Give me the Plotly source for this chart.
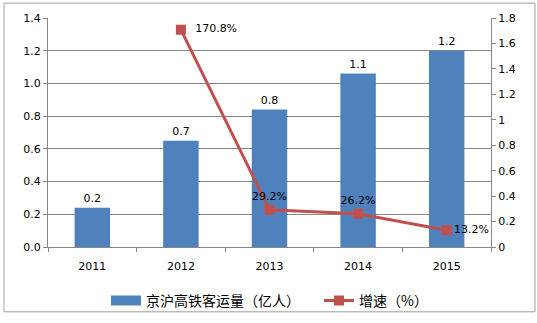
import plotly.graph_objects as go

years = ["2011", "2012", "2013", "2014", "2015"]
volume = [0.24, 0.65, 0.84, 1.06, 1.2]
volume_labels = ["0.2", "0.7", "0.8", "1.1", "1.2"]
growth_years = ["2012", "2013", "2014", "2015"]
growth = [1.708, 0.292, 0.262, 0.132]
growth_labels = ["  170.8%", "29.2%", "26.2%", "13.2%"]

BLUE = "#4F81BD"
RED = "#C0504D"
font_num = "DejaVu Sans, Verdana, sans-serif"
font_cjk = "Noto Sans CJK SC, sans-serif"

fig = go.Figure()
fig.add_trace(go.Bar(
    x=years, y=volume, name="京沪高铁客运量（亿人）", showlegend=False,
    marker=dict(color=BLUE, line=dict(color=BLUE, width=0)),
    text=volume_labels, textposition="outside", cliponaxis=False,
    textfont=dict(size=11, color="#000000", family=font_num),
))
# legend-only entry for the bars (wide rectangle swatch)
fig.add_trace(go.Scatter(
    x=[None], y=[None], name="京沪高铁客运量（亿人）\u2003", mode="lines",
    line=dict(color=BLUE, width=10), showlegend=True,
))
fig.add_trace(go.Scatter(
    x=growth_years, y=growth, name="增速（%）", yaxis="y2",
    mode="lines+markers+text",
    line=dict(color=RED, width=3),
    marker=dict(symbol="square", size=10, color=RED),
    text=growth_labels,
    textposition=["middle right", "top center", "top center", "middle right"],
    textfont=dict(size=11, color="#000000", family=font_num),
    cliponaxis=False,
))

fig.update_layout(
    width=537, height=323,
    margin=dict(l=48, r=46, t=18, b=76, autoexpand=False),
    plot_bgcolor="white", paper_bgcolor="white",
    bargap=0.6,
    showlegend=True,
    legend=dict(orientation="h", x=0.5, xanchor="center", y=-0.165, yanchor="top",
                font=dict(size=14, family=font_cjk, color="#000000"),
                itemwidth=30, tracegroupgap=0,
                bgcolor="rgba(0,0,0,0)"),
    xaxis=dict(type="category", showline=True, linecolor="#878787", linewidth=1,
               ticks="outside", tickson="boundaries", ticklen=4, tickcolor="#878787",
               tickfont=dict(size=11, family=font_num, color="#000000"),
               ticklabelstandoff=9,
               showgrid=False, range=[-0.5, 4.5]),
    yaxis=dict(range=[0, 1.4], dtick=0.2, tickformat=".1f",
               showline=True, linecolor="#878787", linewidth=1,
               ticks="outside", ticklen=4, tickcolor="#878787",
               showgrid=True, gridcolor="#878787", gridwidth=1, zeroline=False,
               tickfont=dict(size=11, family=font_num, color="#000000")),
    yaxis2=dict(range=[0, 1.8], dtick=0.2, overlaying="y", side="right",
                showline=True, linecolor="#878787", linewidth=1,
                ticks="outside", ticklen=4, tickcolor="#878787",
                showgrid=False, zeroline=False,
                tickfont=dict(size=11, family=font_num, color="#000000")),
    shapes=[dict(type="rect", xref="paper", yref="paper",
                 x0=-0.0993, x1=1.0993, y0=-0.283, y1=1.065,
                 line=dict(color="#A0A0A0", width=1), fillcolor="rgba(0,0,0,0)",
                 layer="below")],
)

fig.write_html("out.html")
